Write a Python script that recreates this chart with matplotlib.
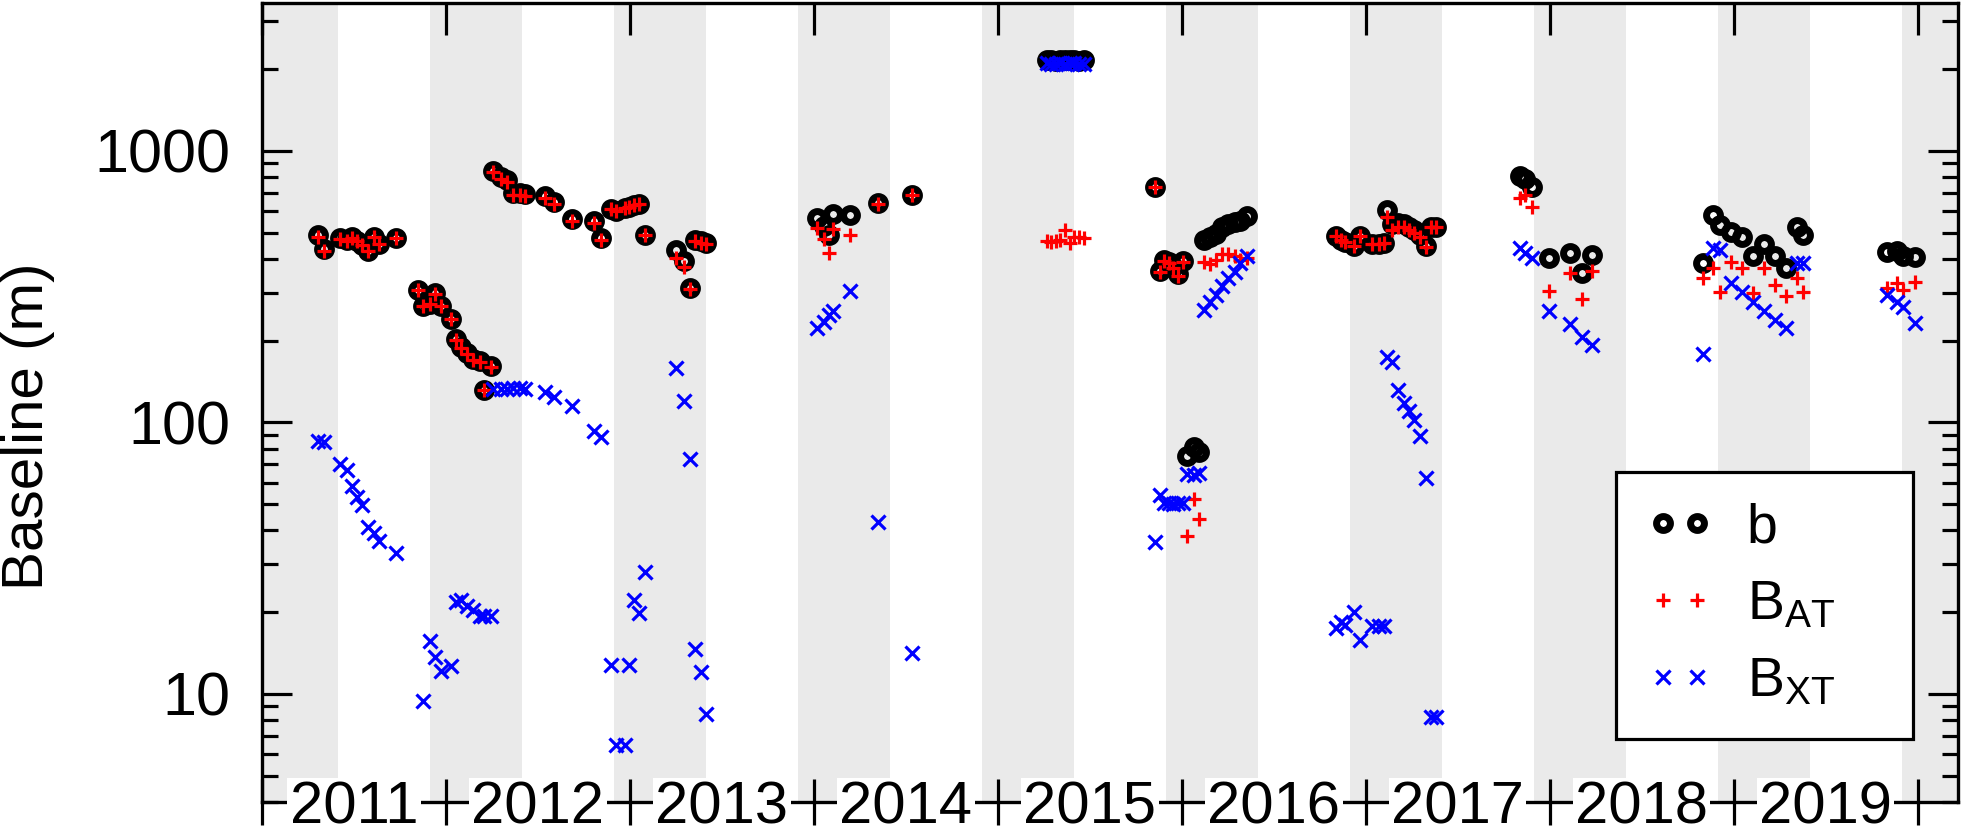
import numpy as np
import matplotlib
matplotlib.use('Agg')
import matplotlib.pyplot as plt
from matplotlib import transforms
from matplotlib.ticker import LogLocator, NullFormatter, FixedLocator, FixedFormatter

plt.rcParams['font.family'] = ['Liberation Sans', 'DejaVu Sans']
plt.rcParams['mathtext.fontset'] = 'custom'
plt.rcParams['mathtext.rm'] = 'Liberation Sans'
plt.rcParams['mathtext.it'] = 'Liberation Sans:italic'
plt.rcParams['mathtext.bf'] = 'Liberation Sans:bold'

# ---------------- data (decimal year, baselines in m) ----------------
t = [
    2011.302, 2011.336, 2011.425, 2011.460, 2011.489, 2011.515, 2011.546, 2011.576, 2011.610, 2011.636, 2011.728,
    2011.848, 2011.873, 2011.912, 2011.938, 2011.972, 2012.027, 2012.052, 2012.084, 2012.113, 2012.145, 2012.185, 2012.208, 2012.244,
    2012.255, 2012.300, 2012.332, 2012.367, 2012.400, 2012.430, 2012.540, 2012.587, 2012.686, 2012.806, 2012.842,
    2012.898, 2012.927, 2012.972, 2012.994, 2013.021, 2013.052, 2013.084,
    2013.250, 2013.295, 2013.327, 2013.355, 2013.385, 2013.415,
    2014.015, 2014.055, 2014.080, 2014.106, 2014.198, 2014.349, 2014.531,
    2015.265, 2015.290, 2015.315, 2015.340, 2015.365, 2015.390, 2015.415, 2015.440, 2015.470,
    2015.856, 2015.880, 2015.905, 2015.930, 2015.955, 2015.980, 2016.006, 2016.030, 2016.065, 2016.095,
    2016.120, 2016.155, 2016.185, 2016.220, 2016.253, 2016.290, 2016.318, 2016.356,
    2016.840, 2016.865, 2016.890, 2016.934, 2016.970, 2017.033, 2017.070, 2017.097, 2017.115, 2017.142,
    2017.178, 2017.206, 2017.233, 2017.260, 2017.296, 2017.329, 2017.354, 2017.381,
    2017.840, 2017.867, 2017.903,
    2017.994, 2018.111, 2018.175, 2018.229,
    2018.836, 2018.890, 2018.927, 2018.985, 2019.044, 2019.108, 2019.166, 2019.226, 2019.285, 2019.343, 2019.376,
    2019.832, 2019.887, 2019.923, 2019.986,
]
b = [
    490, 436, 477, 471, 482, 467, 451, 429, 482, 455, 477,
    307, 268, 273, 299, 268, 241, 202, 189, 180, 171, 168, 132, 161,
    845, 800, 781, 700, 700, 695, 680, 650, 562, 550, 476,
    609, 600, 615, 620, 630, 637, 490,
    431, 394, 312, 470, 467, 458,
    564, 527, 490, 583, 580, 641, 687,
    2160, 2150, 2140, 2160, 2150, 2150, 2160, 2140, 2150,
    736, 361, 396, 389, 373, 351, 392, 75, 81, 78,
    470, 480, 495, 525, 537, 548, 553, 575,
    484, 470, 460, 445, 484, 452, 452, 456, 605, 538,
    542, 539, 523, 510, 491, 447, 526, 526,
    805, 790, 738,
    402, 422, 354, 413,
    385, 580, 533, 504, 483, 408, 454, 408, 369, 525, 490,
    425, 428, 408, 406,
]
b_at = [
    483, 428, 472, 466, 478, 464, 448, 427, 480, 453, 476,
    307, 268, 272, 298, 268, 241, 201, 188, 179, 170, 167, 131, 160,
    835, 790, 770, 687, 687, 682, 668, 638, 550, 542, 468,
    609, 600, 615, 620, 630, 637, 489,
    404, 372, 309, 464, 458, 455,
    521, 472, 422, 514, 490, 637, 687,
    467, 462, 465, 470, 509, 458, 483, 480, 478,
    735, 357, 393, 386, 370, 347, 389, 38, 52, 44,
    389, 383, 395, 416, 416, 410, 396, 403,
    484, 470, 460, 445, 484, 452, 452, 456, 572, 511,
    526, 526, 511, 500, 483, 443, 526, 526,
    668, 687, 620,
    305, 354, 285, 362,
    339, 369, 303, 391, 369, 299, 369, 320, 292, 339, 303,
    312, 325, 307, 330,
]
b_xt = [
    85.4, 84.5, 70.3, 66.9, 58.5, 52.9, 49.5, 41.2, 39.2, 36.6, 33.1,
    np.nan, 9.4, 15.7, 13.7, 12.1, 12.7, 21.8, 22.2, 21.1, 20.4, 19.4, 19.4, 19.4,
    133, 133, 133, 134, 134, 133, 129, 124, 115, 93, 88,
    12.8, 6.5, 6.5, 12.8, 22.2, 19.9, 28.0,
    158, 120, 73.2, 14.6, 12.0, 8.4,
    223, 235, 248, 256, 305, 43, 14.1,
    2100, 2095, 2085, 2105, 2090, 2100, 2105, 2085, 2095,
    36.3, 54, 50.4, 50.4, 50, 50.4, 50.4, 64.7, 64, 65,
    260, 278, 295, 318, 339, 359, 385, 410,
    17.5, 18.4, 18.0, 20.0, 15.8, 17.8, 17.8, 17.8, 174, 167,
    132, 118, 110, 102, 89, 62.5, 8.2, 8.2,
    438, 422, 402,
    258, 230, 206, 192,
    179, 438, 431, 325, 303, 278, 256, 238, 222, 385, 385,
    294, 278, 267, 233,
]
year_labels = [2011, 2012, 2013, 2014, 2015, 2016, 2017, 2018, 2019]
year_ticks = [2011, 2012, 2013, 2014, 2015, 2016, 2017, 2018, 2019, 2020]
y_ticks = [10, 100, 1000]
y_ticklabels = ['10', '100', '1000']
# winter shading: 1 December to 1 June
winters = list(range(2010, 2020))

# ---------------- figure ----------------
W, H = 1961, 826
fig = plt.figure(figsize=(W / 100, H / 100), dpi=100)
ax = fig.add_axes([262 / W, (H - 802) / H, (1958 - 262) / W, (802 - 3) / H])

for w in winters:
    ax.axvspan(w + 334 / 365, w + 1 + 151 / 365, color='#eaeaea', lw=0, zorder=0)

ax.plot(t, b, 'o', ms=10, mew=5, mec='black', mfc='none', label='b', zorder=3)
ax.plot(t, b_at, '+', color='red', ms=9.5, mew=2.3, label=r'B$_\mathrm{AT}$', zorder=4)
ax.plot(t, b_xt, 'x', color='blue', ms=9.5, mew=2.3, label=r'B$_\mathrm{XT}$', zorder=5)

ax.set_yscale('log')
ax.set_ylim(4, 3500)
ax.set_xlim(2011, 2020.22)

for s in ax.spines.values():
    s.set_linewidth(2.4)

ax.yaxis.set_major_locator(FixedLocator(y_ticks))
ax.yaxis.set_major_formatter(FixedFormatter(y_ticklabels))
ax.yaxis.set_minor_locator(LogLocator(base=10, subs=np.arange(2, 10)))
ax.yaxis.set_minor_formatter(NullFormatter())
ax.tick_params(axis='y', which='major', direction='in', length=21.5, width=2.3,
               left=True, right=True, labelsize=44, pad=23)
ax.tick_params(axis='y', which='minor', direction='in', length=11.5, width=2.3,
               left=True, right=True)

# x: major ticks = inward ticks along the top, minor ticks = ticks crossing the bottom spine
ax.xaxis.remove_overlapping_locs = False
ax.set_xticks(year_ticks)
ax.set_xticks(year_ticks, minor=True)
ax.tick_params(axis='x', which='major', direction='in', length=23, width=2.3,
               top=True, bottom=False, labelbottom=False, labeltop=False)
ax.tick_params(axis='x', which='minor', direction='inout', length=33, width=2.3,
               top=False, bottom=True, labelbottom=False, labeltop=False)

trans = transforms.blended_transform_factory(ax.transData, ax.transAxes)
trans = trans + transforms.ScaledTranslation(0, -21 / 100, fig.dpi_scale_trans)
for yr in year_labels:
    ax.text(yr + 0.5, 0, str(yr), transform=trans, ha='center', va='baseline',
            fontsize=43, zorder=10, clip_on=False,
            bbox=dict(boxstyle='square,pad=0.04', fc='white', ec='none'))

ax.set_ylabel('Baseline (m)', fontsize=42)
ax.yaxis.set_label_coords(-0.122, 0.47)

leg = ax.legend(loc='upper left',
                bbox_to_anchor=(1616 / W, (H - 742) / H, (1913 - 1616) / W, (742 - 472) / H),
                bbox_transform=fig.transFigure, mode='expand', borderaxespad=0, numpoints=2,
                fontsize=40, frameon=True, fancybox=False, framealpha=1,
                edgecolor='black', handlelength=1.2, handletextpad=0.6,
                borderpad=0.55, labelspacing=0.45)
leg.get_frame().set_linewidth(2.3)

fig.savefig('out.png', dpi=100)
